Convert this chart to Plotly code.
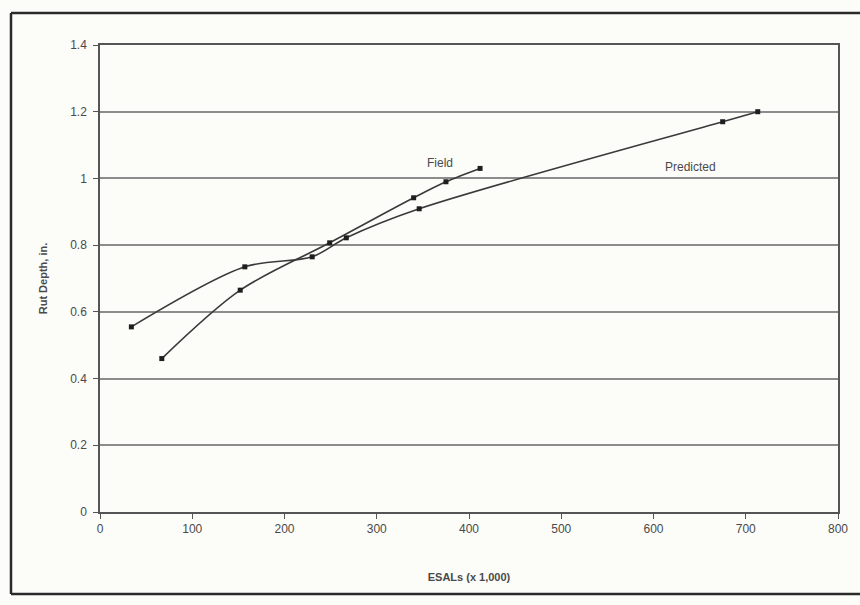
import plotly.graph_objects as go

# Field measurements: ESALs (thousands) vs rut depth (in.)
field_esals = [67, 152, 249, 340, 375, 412]
field_rut = [0.46, 0.665, 0.807, 0.942, 0.99, 1.03]

# Model predictions
pred_esals = [34, 157, 230, 267, 346, 675, 713]
pred_rut = [0.555, 0.735, 0.765, 0.822, 0.909, 1.17, 1.2]

x_ticks = [0, 100, 200, 300, 400, 500, 600, 700, 800]
y_ticks = [0, 0.2, 0.4, 0.6, 0.8, 1.0, 1.2, 1.4]
y_tick_text = ["0", "0.2", "0.4", "0.6", "0.8", "1", "1.2", "1.4"]

LINE = "#3a3a3a"
TEXT = "#4a4a4a"
FONT = "Liberation Sans, Arial, sans-serif"

fig = go.Figure()
for xs, ys, name in [(field_esals, field_rut, "Field"), (pred_esals, pred_rut, "Predicted")]:
    fig.add_trace(go.Scatter(
        x=xs, y=ys, name=name, mode="lines+markers",
        line=dict(color=LINE, width=1.6, shape="spline", smoothing=0.9),
        marker=dict(symbol="square", size=5, color="#1e1e1e"),
        showlegend=False,
    ))

fig.add_annotation(x=369, y=1.047, text="Field", showarrow=False,
                   font=dict(family=FONT, size=12, color=TEXT))
fig.add_annotation(x=640, y=1.035, text="Predicted", showarrow=False,
                   font=dict(family=FONT, size=12, color=TEXT))

# outer frame around the whole chart
W = 738.0
H = 467.0
def px_x(p):
    return (p - 100) / W
def px_y(p):
    return (512 - p) / H
frame = dict(color="#2a2a2a", width=2.5)
fig.add_shape(type="line", xref="paper", yref="paper",
              x0=px_x(11), x1=px_x(11), y0=px_y(13), y1=px_y(594), line=frame)
fig.add_shape(type="line", xref="paper", yref="paper",
              x0=px_x(11), x1=px_x(862), y0=px_y(13), y1=px_y(13), line=frame)
fig.add_shape(type="line", xref="paper", yref="paper",
              x0=px_x(11), x1=px_x(862), y0=px_y(594), y1=px_y(594), line=frame)

fig.update_layout(
    template="none",
    width=860, height=605,
    margin=dict(l=100, r=22, t=45, b=93),
    paper_bgcolor="#fcfcf9", plot_bgcolor="#fcfcf9",
    font=dict(family=FONT, size=12, color=TEXT),
)
fig.update_xaxes(
    range=[0, 800], tickvals=x_ticks, showgrid=False, zeroline=False,
    showline=True, linecolor="#555", linewidth=1.5, mirror=True,
    ticks="outside", ticklen=5, tickcolor="#555", ticklabelstandoff=0,
    tickfont=dict(family=FONT, size=12, color=TEXT),
    title=dict(text="<b>ESALs (x 1,000)</b>", font=dict(family=FONT, size=11, color=TEXT), standoff=38),
)
fig.update_yaxes(
    range=[0, 1.4], tickvals=y_ticks, ticktext=y_tick_text,
    showgrid=True, gridcolor="#8c8c8c", gridwidth=1.6, zeroline=False,
    showline=True, linecolor="#555", linewidth=1.5, mirror=True,
    ticks="outside", ticklen=5, tickcolor="#555", ticklabelstandoff=4,
    tickfont=dict(family=FONT, size=12, color=TEXT),
    title=dict(text="<b>Rut Depth, in.</b>", font=dict(family=FONT, size=11, color=TEXT), standoff=20),
)

fig.write_html("out.html")
